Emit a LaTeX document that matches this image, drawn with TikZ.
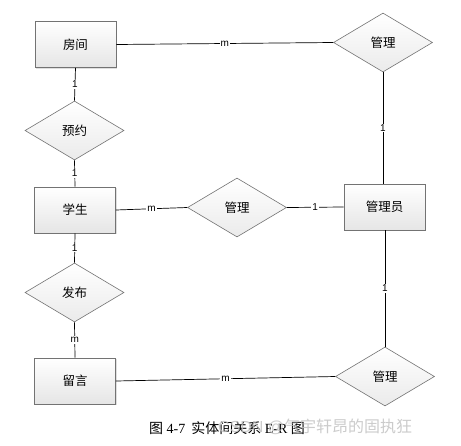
\documentclass[tikz,border=0pt]{standalone}
\usepackage{fontspec}
\setmainfont{Liberation Serif}
\newfontfamily\cjk{Noto Sans CJK SC}
\newfontfamily\lab{Liberation Sans}
\usetikzlibrary{shapes.geometric,shadows}
\begin{document}
\begin{tikzpicture}[x=1pt,y=-1pt,
  entity/.style={draw=black!55,line width=0.8pt,minimum width=81pt,minimum height=46pt,
    top color=white,bottom color=black!10,font=\cjk\fontsize{12.5}{12.5}\selectfont,
    drop shadow={shadow xshift=1pt,shadow yshift=-1pt,opacity=0.25}},
  rel/.style={draw=black!55,line width=0.6pt,diamond,aspect=1.7,inner sep=0pt,
    minimum width=99pt,minimum height=59pt,
    top color=white,bottom color=black!8,font=\cjk\fontsize{12.5}{12.5}\selectfont},
  link/.style={draw=black,line width=0.7pt},
  card/.style={fill=white,inner sep=1pt,font=\lab\fontsize{10}{10}\selectfont}]
\useasboundingbox (0,0) rectangle (461,445);
\fill[white] (0,0) rectangle (461,445);
% entities
\node[entity] (room) at (75.5,44.5) {房间};
\node[entity] (stu) at (75,210) {学生};
\node[entity] (msg) at (75,381) {留言};
\node[entity] (admin) at (384.5,207) {管理员};
% relationships
\node[rel] (mg1) at (383,42.5) {管理};
\node[rel] (book) at (74.5,130.5) {预约};
\node[rel] (mg2) at (237,207.5) {管理};
\node[rel] (pub) at (74.5,292.5) {发布};
\node[rel] (mg3) at (385,376.5) {管理};
% connectors
\draw[link] (room.east) -- node[card,pos=0.5] {m} (mg1.west);
\draw[link] (room.south) -- node[card] {1} (book.north);
\draw[link] (book.south) -- node[card] {1} (stu.north);
\draw[link] (stu.east) -- node[card,pos=0.5] {m} (mg2.west);
\draw[link] (mg2.east) -- node[card,pos=0.5] {1} (admin.west);
\draw[link] (mg1.south) -- node[card,pos=0.5] {1} (admin.north -| mg1.south);
\draw[link] (stu.south) -- node[card] {1} (pub.north);
\draw[link] (pub.south) -- node[card] {m} (msg.north);
\draw[link] (admin.south -| mg3.north) -- node[card,pos=0.5] {1} (mg3.north);
\draw[link] (msg.east) -- node[card,pos=0.5] {m} (mg3.west);
% caption
\node[anchor=west,inner sep=0pt,font=\fontsize{14}{14}\selectfont] (cap) at (149,428)
  {{\cjk 图} 4-7\hspace{6pt}{\cjk 实体间关系} E-R {\cjk 图}};
\node[anchor=west,inner sep=0pt,text=black!25,opacity=0.8,font=\cjk\fontsize{16}{16}\selectfont] (wm) at (218,427)
  {\lab CSDN @\cjk 气宇轩昂的固执狂};
\end{tikzpicture}
\end{document}
